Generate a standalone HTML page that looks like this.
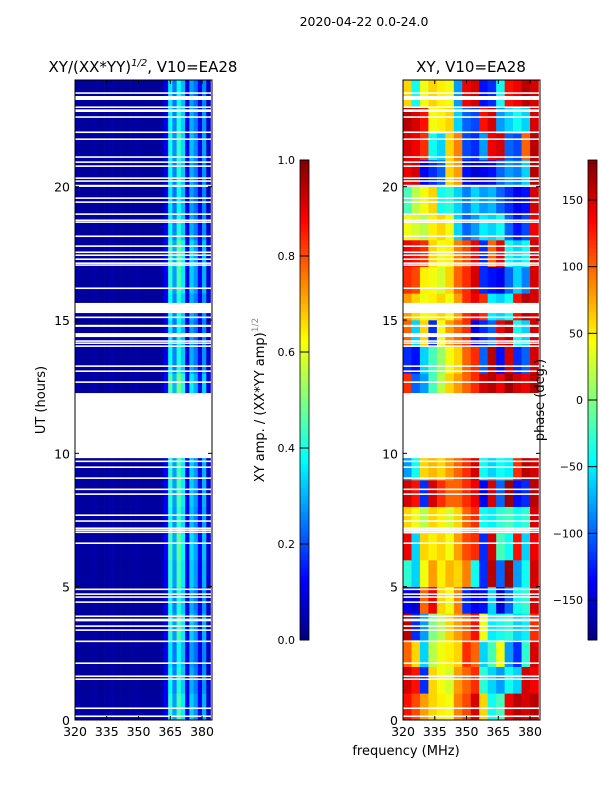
<!DOCTYPE html>
<html><head><meta charset="utf-8">
<style>
body{margin:0;background:#fff;}
svg text{font-family:"DejaVu Sans","Liberation Sans",sans-serif;fill:#000;}
</style></head>
<body>
<svg id="fig" width="600" height="800" xmlns="http://www.w3.org/2000/svg">
<rect width="600" height="800" fill="#fff"/>
<text x="364" y="26" font-size="12.5" text-anchor="middle">2020-04-22 0.0-24.0</text>
<text x="143" y="72" font-size="15" text-anchor="middle">XY/(XX*YY)<tspan dy="-6" font-size="10" font-style="italic">1/2</tspan><tspan dy="6">, V10=EA28</tspan></text>
<text x="471" y="72" font-size="15" text-anchor="middle">XY, V10=EA28</text>
<g id="ampPlot"></g>
<g id="phPlot"></g>
<g id="axes"></g>
<text x="45" y="400" font-size="13" text-anchor="middle" transform="rotate(-90 45 400)">UT (hours)</text>
<text x="406" y="755" font-size="13" text-anchor="middle">frequency (MHz)</text>
<text x="264" y="400" font-size="13" text-anchor="middle" transform="rotate(-90 264 400)">XY amp. / (XX*YY amp)<tspan dy="-6" font-size="9" fill="#888">1/2</tspan></text>
<text x="544" y="400" font-size="13" text-anchor="middle" transform="rotate(-90 544 400)">phase (deg.)</text>
<g id="cbars"></g>
</svg>
<script>
const freqBinsStart = [320,322,324,326,328,330,332,334,336,338,340,342,344,346,348,350,352,354,356,358,360,362,364,366,368,370,372,374,376,378,380,382];
const ampByFreq = [0.04,0.03,0.03,0.03,0.04,0.03,0.03,0.03,0.04,0.03,0.03,0.03,0.03,0.03,0.04,0.03,0.03,0.03,0.03,0.03,0.04,0.12,0.42,0.28,0.45,0.36,0.12,0.33,0.27,0.12,0.3,0.08];
const ampByHour = [1.0,0.9,0.85,1.0,0.9,1.0,1.05,0.95,1.0,1.0,1,1,1.1,0.9,0.85,0.9,1.0,1.05,0.9,0.85,0.9,0.95,0.9,0.85];
const phaseFreqStart = [320,324,328,332,336,340,344,348,352,356,360,364,368,372,376,380];
const phaseGrid = [
[130,110,80,60,50,40,90,110,150,60,-40,-20,140,160,150,160],
[150,130,-120,60,40,30,80,100,120,-30,-60,-80,-40,-60,150,140],
[100,60,-60,20,40,50,60,120,100,-60,-20,40,-80,-120,-30,150],
[160,-120,-80,0,20,60,80,100,130,40,-50,-40,-30,-60,-50,120],
[-140,-150,100,140,60,40,90,-120,-140,-130,-60,-150,-100,-40,-30,150],
[-30,-60,40,80,50,70,60,90,-40,-120,160,-100,170,-80,-40,150],
[140,-60,60,50,60,40,80,110,120,-120,150,-20,-40,130,-60,140],
[60,40,20,60,50,30,60,100,120,-40,-50,-30,-20,-40,-30,150],
[150,130,-120,150,120,100,100,120,140,-140,150,-100,170,-130,-120,160],
[-80,-40,60,70,60,80,100,120,150,-40,-60,-40,-50,120,160,150],
[0,0,0,0,0,0,0,0,0,0,0,0,0,0,0,0],
[0,0,0,0,0,0,0,0,0,0,0,0,0,0,0,0],
[120,-100,-80,-20,20,60,80,100,120,150,160,140,170,150,140,160],
[-120,-130,-60,-20,10,40,60,100,120,-100,160,-130,150,-120,-100,150],
[100,-60,60,-120,40,80,100,120,-140,-120,-100,140,160,-40,-60,150],
[80,60,40,50,60,40,80,120,140,120,-50,-60,-40,130,160,150],
[120,110,50,40,30,60,100,120,150,-120,-130,-140,-100,-60,-90,150],
[140,130,120,60,40,50,90,110,140,-120,100,140,-40,-60,-40,150],
[40,30,20,50,60,40,-60,-100,-80,-50,-60,-40,-100,-130,-110,140],
[-20,20,40,60,-40,-30,-60,-90,-60,-80,-70,-100,-120,-140,-130,150],
[140,150,-140,-120,-100,60,80,-130,-150,-140,-130,-100,-80,-90,-60,160],
[150,140,120,-40,-60,60,90,-110,-120,-80,140,150,-100,-110,100,160],
[160,150,130,40,50,60,-60,-100,-110,130,150,-80,-60,-40,-60,150],
[60,-40,40,60,50,40,-80,140,150,-130,-120,-40,130,140,160,150]];
const gapStart = [23.48,23.25,22.95,22.8,22.58,22.01,21.75,21.08,20.89,20.74,20.29,20.18,19.99,19.54,19.39,18.94,18.71,18.64,18.11,17.74,17.51,17.4,17.25,17.1,17.03,16.16,15.3,15.26,15.07,14.74,14.36,14.18,14.1,13.99,13.24,13.05,12.64,9.82,9.67,9.45,9.04,8.62,8.44,7.65,7.43,7.16,7.09,7.01,6.6,4.87,4.69,4.58,4.39,3.86,3.7,3.49,3.34,2.92,2.1,1.61,1.5,0.41,0.11];
const gapLen = [0.06,0.15,0.06,0.1,0.06,0.06,0.06,0.06,0.06,0.06,0.06,0.06,0.08,0.06,0.06,0.06,0.06,0.06,0.06,0.06,0.06,0.06,0.06,0.06,0.06,0.06,0.34,0.06,0.06,0.08,0.15,0.06,0.06,0.06,0.06,0.06,0.06,2.44,0.06,0.06,0.06,0.06,0.06,0.06,0.06,0.06,0.06,0.06,0.06,0.06,0.06,0.06,0.06,0.06,0.1,0.06,0.06,0.06,0.06,0.06,0.06,0.06,0.06];
const xTicks = [320,335,350,365,380];
const yTicks = [0,5,10,15,20];
const ampTicks = [0.0,0.2,0.4,0.6,0.8,1.0];
const phaseTicks = [-150,-100,-50,0,50,100,150];

const NS="http://www.w3.org/2000/svg";
const FMIN=320,FMAX=384.7,TOP=80,BOT=720;
const panels=[{x0:75,x1:212,g:document.getElementById('ampPlot')},{x0:403,x1:540,g:document.getElementById('phPlot')}];
function fx(p,f){return p.x0+(f-FMIN)/(FMAX-FMIN)*(p.x1-p.x0);}
function hy(h){return BOT-h/24*(BOT-TOP);}
function jet(v){v=Math.max(0,Math.min(1,v));
 const r=Math.min(4*v-1.5,-4*v+4.5),g=Math.min(4*v-0.5,-4*v+3.5),b=Math.min(4*v+0.5,-4*v+2.5);
 const c=x=>Math.round(255*Math.max(0,Math.min(1,x)));return `rgb(${c(r)},${c(g)},${c(b)})`;}
function mk(tag,attrs,parent){const e=document.createElementNS(NS,tag);for(const k in attrs)e.setAttribute(k,attrs[k]);parent.appendChild(e);return e;}

const pA=panels[0];
for(let h=0;h<24;h++){for(let i=0;i<freqBinsStart.length;i++){
 const f0=freqBinsStart[i],f1=Math.min(f0+2,FMAX);
 const r=mk('rect',{x:fx(pA,f0),y:hy(h+1),width:fx(pA,f1)-fx(pA,f0)+0.3,height:hy(h)-hy(h+1)+0.3,fill:jet(ampByFreq[i]*ampByHour[h])},pA.g);
 
 
}}
const pP=panels[1];
for(let h=0;h<24;h++){for(let i=0;i<phaseFreqStart.length;i++){
 const f0=phaseFreqStart[i],f1=Math.min(f0+4,FMAX);
 const r=mk('rect',{x:fx(pP,f0),y:hy(h+1),width:fx(pP,f1)-fx(pP,f0)+0.3,height:hy(h)-hy(h+1)+0.3,fill:jet((phaseGrid[h][i]+180)/360)},pP.g);
 
 
}}
for(const p of panels){for(let k=0;k<gapStart.length;k++){
 const y0=hy(gapStart[k]+gapLen[k]),y1=hy(gapStart[k]);
 const r=mk('rect',{x:p.x0,y:y0,width:p.x1-p.x0,height:Math.max(1.2,y1-y0),fill:'#fff'},p.g);
 
 
}}
const ax=document.getElementById('axes');
panels.forEach((p,pi)=>{
 const fr=mk('rect',{x:p.x0,y:TOP,width:p.x1-p.x0,height:BOT-TOP,fill:'none',stroke:'#000','stroke-width':1},ax);
 
 
 for(const t of xTicks){const x=fx(p,t);
  mk('line',{x1:x,y1:BOT,x2:x,y2:BOT-4,stroke:'#000'},ax);mk('line',{x1:x,y1:TOP,x2:x,y2:TOP+4,stroke:'#000'},ax);
  const tx=mk('text',{x:x,y:BOT+16,'font-size':12.5,'text-anchor':'middle'},ax);tx.textContent=t;
  
  }
 for(const t of yTicks){const y=hy(t);
  mk('line',{x1:p.x0,y1:y,x2:p.x0+4,y2:y,stroke:'#000'},ax);mk('line',{x1:p.x1,y1:y,x2:p.x1-4,y2:y,stroke:'#000'},ax);
  const tx=mk('text',{x:p.x0-5,y:y+5,'font-size':12.5,'text-anchor':'end'},ax);tx.textContent=t;
  
  }
});
const cb=document.getElementById('cbars');
function colorbar(x,ticks,vmin,vmax,name){
 const n=120,h=480,y0=160;
 for(let i=0;i<n;i++){const r=mk('rect',{x:x,y:y0+h-(i+1)*h/n,width:9,height:h/n+0.4,fill:jet((i+0.5)/n)},cb);
  
  }
 const f=mk('rect',{x:x,y:y0,width:9,height:h,fill:'none',stroke:'#000','stroke-width':0.8},cb);
 
 
 for(const t of ticks){const y=y0+h-(t-vmin)/(vmax-vmin)*h;
  mk('line',{x1:x,y1:y,x2:x+9,y2:y,stroke:'#000'},cb);
  const tx=mk('text',{x:x-5,y:y+4,'font-size':11,'text-anchor':'end'},cb);
  tx.textContent=(name==='amp-colorbar')?t.toFixed(1):(t<0?'\u2212'+(-t):t);
  
  }
}
colorbar(300,ampTicks,0,1,'amp-colorbar');
colorbar(588,phaseTicks,-180,180,'phase-colorbar');
</script>
</body></html>
